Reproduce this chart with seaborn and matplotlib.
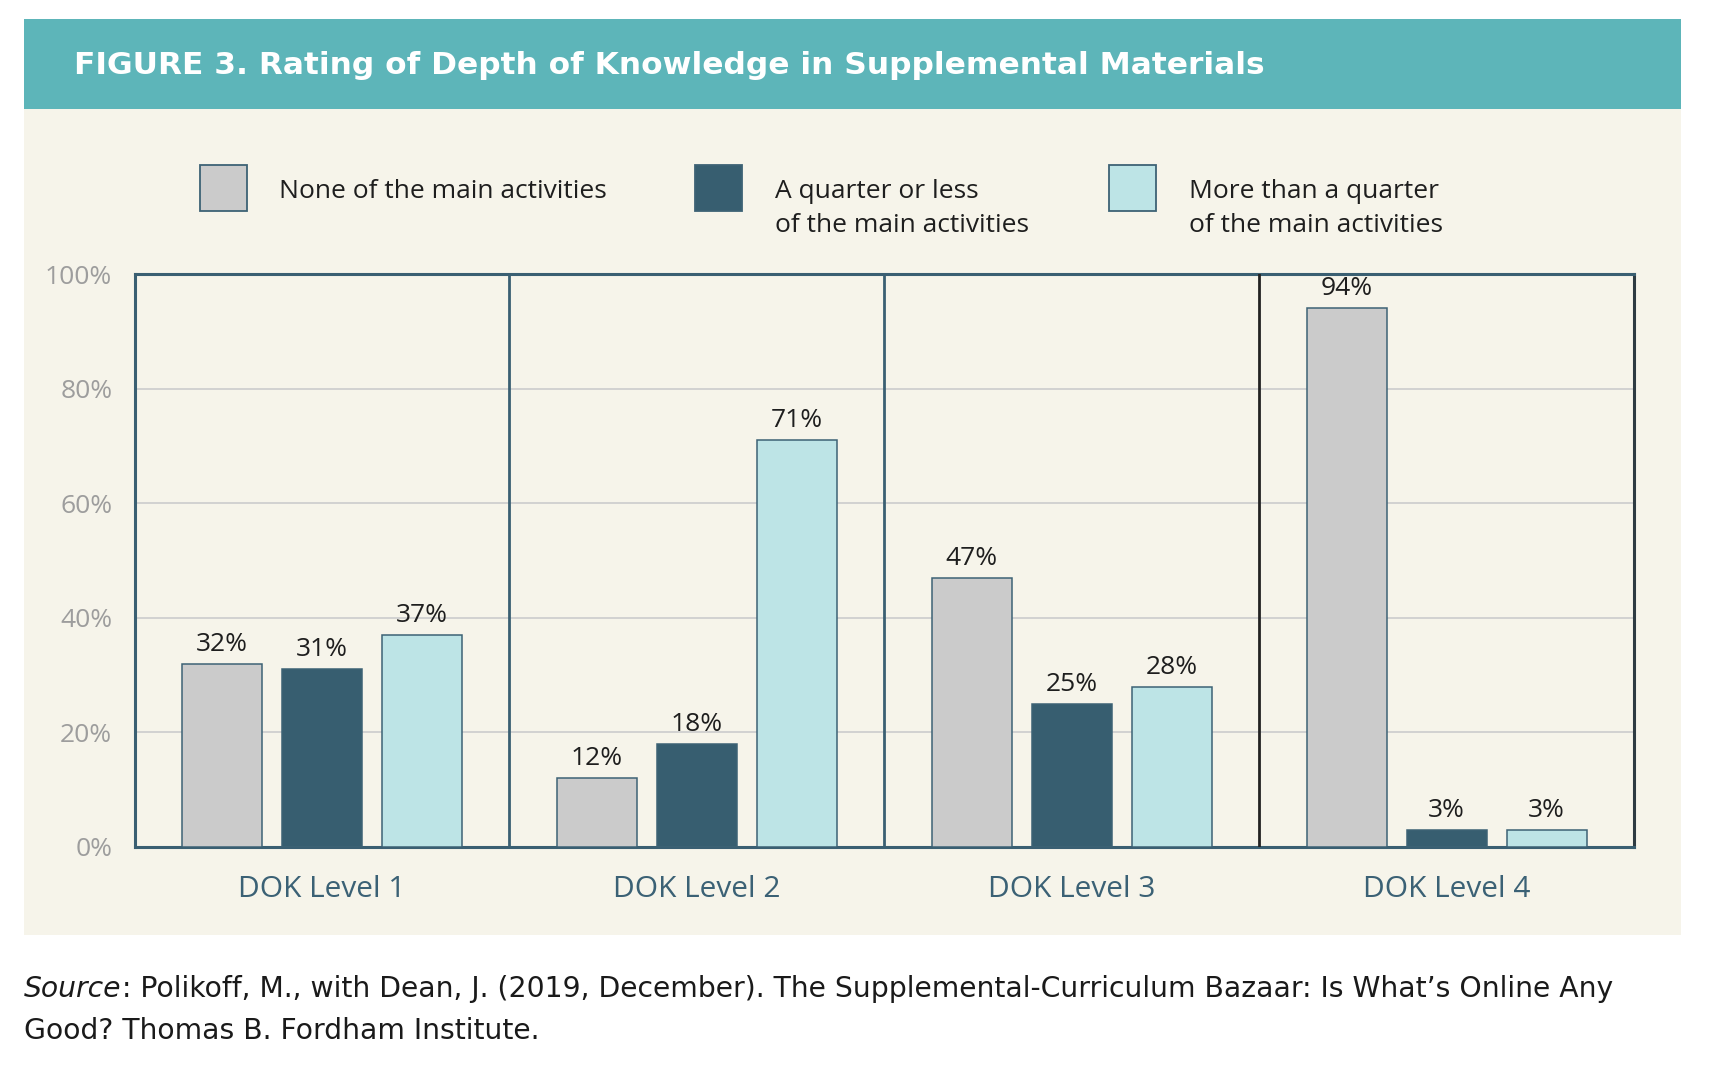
import pandas as pd
import matplotlib
matplotlib.use("Agg")
import matplotlib.pyplot as plt
from matplotlib.patches import Rectangle
import seaborn as sns

sns.set_style("white")
plt.rcParams["font.family"] = ["Open Sans", "DejaVu Sans"]

LEVELS = ["DOK Level 1", "DOK Level 2", "DOK Level 3", "DOK Level 4"]
RATINGS = ["None of the main activities",
           "A quarter or less\nof the main activities",
           "More than a quarter\nof the main activities"]
NONE = [32, 12, 47, 94]
QUARTER_OR_LESS = [31, 18, 25, 3]
MORE_THAN_QUARTER = [37, 71, 28, 3]
Y_TICKS = [0, 20, 40, 60, 80, 100]

TITLE = "FIGURE 3. Rating of Depth of Knowledge in Supplemental Materials"
SOURCE_1 = (": Polikoff, M., with Dean, J. (2019, December). The Supplemental-Curriculum "
            "Bazaar: Is What\u2019s Online Any")
SOURCE_2 = "Good? Thomas B. Fordham Institute."

BAR_COLORS = ["#cbcbcb", "#375e70", "#bde4e6"]
EDGE = "#3d6275"
FRAME = "#3a5f72"
CREAM = "#f6f4ea"
TEAL = "#5db5b9"

df = pd.DataFrame({
    "level": LEVELS * 3,
    "rating": [RATINGS[0]] * 4 + [RATINGS[1]] * 4 + [RATINGS[2]] * 4,
    "pct": NONE + QUARTER_OR_LESS + MORE_THAN_QUARTER,
})

W, H = 1714, 1080
fig = plt.figure(figsize=(W / 100, H / 100), dpi=100)
fig.patch.set_facecolor("white")


def fx(px):
    return px / W


def fy(px):
    return 1 - px / H


# header band and cream panel (behind the axes)
fig.patches.append(Rectangle((fx(24), fy(935)), fx(1681) - fx(24), fy(109) - fy(935),
                             transform=fig.transFigure, facecolor=CREAM, edgecolor="none", zorder=-2))
fig.patches.append(Rectangle((fx(24), fy(109)), fx(1681) - fx(24), fy(19) - fy(109),
                             transform=fig.transFigure, facecolor=TEAL, edgecolor="none", zorder=-2))
fig.text(fx(74), fy(65), TITLE, color="white", fontsize=22.5, fontweight="bold",
         family=["DejaVu Sans"], va="center", ha="left")

ax = fig.add_axes([fx(134.5), fy(847), fx(1634) - fx(134.5), fy(274) - fy(847)])
ax.set_facecolor(CREAM)

sns.barplot(data=df, x="level", y="pct", hue="rating", hue_order=RATINGS,
            palette=BAR_COLORS, saturation=1, edgecolor=EDGE, linewidth=1.1,
            width=0.8, gap=0.2, legend=False, ax=ax, zorder=3)

for cont in ax.containers:
    ax.bar_label(cont, fmt="{:.0f}%", padding=5, fontsize=19, color="#1e1e1e")

ax.set_ylim(0, 100)
ax.set_xlim(-0.5, 3.5)
ax.set_yticks(Y_TICKS)
ax.set_yticklabels([f"{t}%" for t in Y_TICKS], color="#9d9d9d", fontsize=19)
ax.tick_params(axis="y", length=0, pad=16)
ax.tick_params(axis="x", length=0, pad=20, labelsize=21.5, labelcolor="#3b6175")
ax.set_xlabel("")
ax.set_ylabel("")
ax.yaxis.grid(True, color="#cfcfcf", linewidth=1.3, zorder=1)
ax.set_axisbelow(True)

for side in ["left", "top", "bottom"]:
    ax.spines[side].set_color(FRAME)
    ax.spines[side].set_linewidth(2.2)
ax.spines["right"].set_color("#2e3b42")
ax.spines["right"].set_linewidth(2.2)
ax.axvline(0.5, color=FRAME, linewidth=2, zorder=4)
ax.axvline(1.5, color=FRAME, linewidth=2, zorder=4)
ax.axvline(2.5, color="#222222", linewidth=2, zorder=4)

# legend drawn as boxes + text above the plot
box_x = [200, 695, 1109]
text_x = [279, 775, 1189]
for bx, tx, col, label in zip(box_x, text_x, BAR_COLORS, RATINGS):
    fig.patches.append(Rectangle((fx(bx), fy(211)), fx(47), fy(165) - fy(211),
                                 transform=fig.transFigure, facecolor=col,
                                 edgecolor=EDGE, linewidth=1.3, zorder=2))
    for i, line in enumerate(label.split("\n")):
        fig.text(fx(tx), fy(191 + 35 * i), line, fontsize=19, color="#1e1e1e",
                 va="center", ha="left")

# source note
src_font = ["DejaVu Sans"]
t1 = fig.text(fx(24), fy(989), "Source", fontsize=20.3, style="italic", family=src_font,
              color="#1a1a1a", va="center", ha="left")
fig.canvas.draw()
bb = t1.get_window_extent(renderer=fig.canvas.get_renderer())
fig.text(bb.x1 / W, fy(989), SOURCE_1, fontsize=20.3, family=src_font,
         color="#1a1a1a", va="center", ha="left")
fig.text(fx(24), fy(1031), SOURCE_2, fontsize=20.3, family=src_font,
         color="#1a1a1a", va="center", ha="left")

fig.savefig("out.png", dpi=100)
